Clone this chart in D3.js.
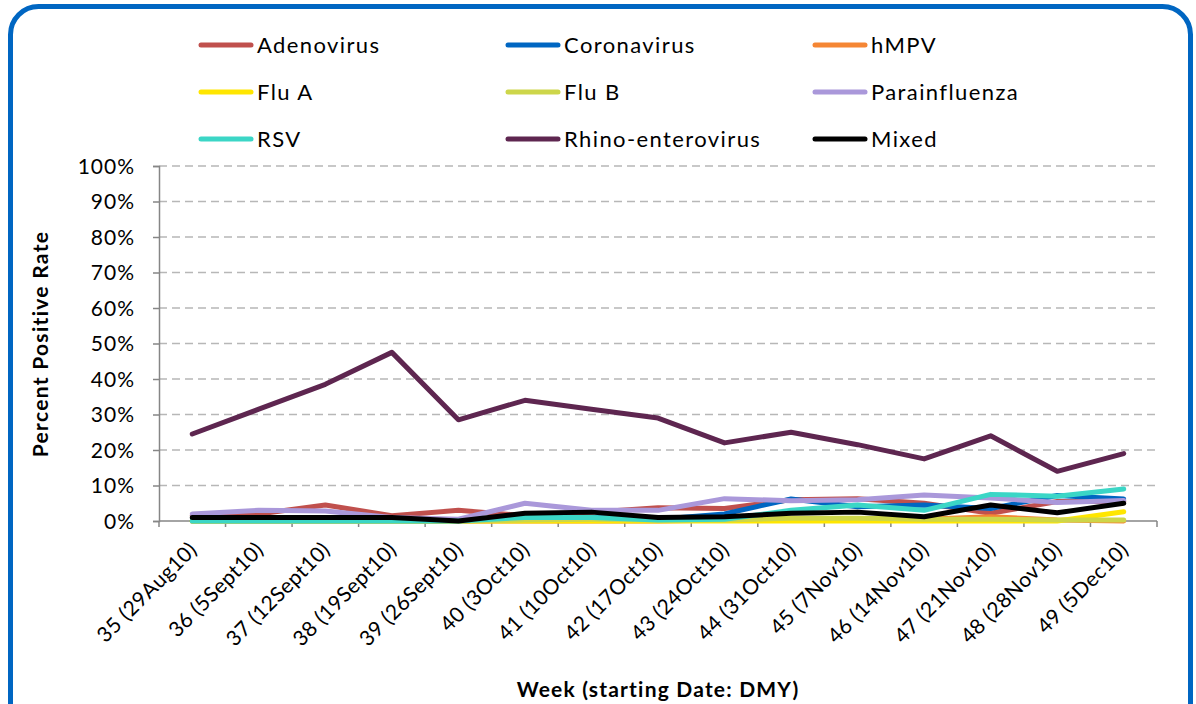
<!DOCTYPE html>
<html>
<head>
<meta charset="utf-8">
<script src="https://cdnjs.cloudflare.com/ajax/libs/d3/7.8.5/d3.min.js"></script>
<style>
  body { margin: 0; background: #fff; }
  svg { display: block; font-family: Lato, "Open Sans", sans-serif; }
</style>
</head>
<body>
<svg id="virusChart"></svg>
<script>
let weeks = ["35 (29Aug10)", "36 (5Sept10)", "37 (12Sept10)", "38 (19Sept10)", "39 (26Sept10)",
             "40 (3Oct10)", "41 (10Oct10)", "42 (17Oct10)", "43 (24Oct10)", "44 (31Oct10)",
             "45 (7Nov10)", "46 (14Nov10)", "47 (21Nov10)", "48 (28Nov10)", "49 (5Dec10)"];

let seriesNames = ["Adenovirus", "Coronavirus", "hMPV", "Flu A", "Flu B", "Parainfluenza", "RSV", "Rhino-enterovirus", "Mixed"];
let seriesColors = ["#C0504D", "#0066C2", "#F58634", "#FFE600", "#CDD64A", "#AA98DA", "#3BD6C6", "#5E2650", "#000000"];

let adenovirus   = [1.5, 2, 4.5, 1.5, 3, 1.5, 2.5, 3.7, 3.5, 6, 6.3, 5, 2.2, 5.5, 5.5];
let coronavirus  = [0, 0, 0, 0, 0, 0.5, 1, 0.5, 2, 6.2, 4, 4.5, 3.5, 7.2, 6.2];
let hmpv         = [0, 0, 0, 0, 0, 0, 0, 0, 0.3, 0.5, 0.5, 0.5, 1.2, 0.3, 0];
let fluA         = [0, 0, 0, 0, 0, 0, 0, 0, 0, 0, 0, 0, 0, 0, 2.6];
let fluB         = [0, 0, 0, 0, 0, 0.3, 0.5, 0.3, 0.3, 0.8, 0.8, 0.5, 0.5, 0.3, 0.3];
let parainfluenza= [2, 3, 2.8, 1, 0.5, 5, 3, 3, 6.3, 5.7, 6, 7.3, 6.5, 5.2, 5.8];
let rsv          = [0, 0, 0, 0, 0, 1, 1, 0.3, 0.5, 3, 4.5, 3, 7.5, 7, 9];
let rhino        = [24.5, 31.5, 38.5, 47.5, 28.5, 34, 31.5, 29, 22, 25, 21.5, 17.5, 24, 14, 19];
let mixed        = [1, 1, 1, 1, 0, 2.2, 2.5, 1, 1.2, 2.2, 2.5, 1.2, 4.5, 2.3, 5];

let seriesValues = [adenovirus, coronavirus, hmpv, fluA, fluB, parainfluenza, rsv, rhino, mixed];
let yTicks = [0, 10, 20, 30, 40, 50, 60, 70, 80, 90, 100];

let chartWidth = 1196;
let chartHeight = 704;
let margin = {left: 159, right: 39, top: 166, bottom: 183};

let svg = d3.select("#virusChart")
    .attr("width", chartWidth)
    .attr("height", chartHeight);

// blue rounded frame
svg.append("rect")
    .attr("x", 10.5)
    .attr("y", 6.5)
    .attr("width", 1180)
    .attr("height", 730)
    .attr("rx", 28)
    .attr("fill", "none")
    .attr("stroke", "#0066C2")
    .attr("stroke-width", 5);

let plotW = chartWidth - margin.left - margin.right;
let plotH = chartHeight - margin.top - margin.bottom;

let g = svg.append("g")
    .attr("transform", "translate(" + margin.left + "," + margin.top + ")");

let x = d3.scaleBand()
    .domain(weeks)
    .range([0, plotW]);

let y = d3.scaleLinear()
    .domain([0, 100])
    .range([plotH, 0]);

// gridlines
g.selectAll(".grid")
    .data(yTicks.slice(1))
    .enter().append("line")
    .attr("class", "grid")
    .attr("x1", 0)
    .attr("x2", plotW)
    .attr("y1", d => y(d))
    .attr("y2", d => y(d))
    .attr("stroke", "#B7B7B7")
    .attr("stroke-width", 1.5)
    .attr("stroke-dasharray", "8,5");

// y axis
let yAxis = g.append("g")
    .call(d3.axisLeft(y).tickValues(yTicks).tickFormat(d => d + "%").tickSize(6).tickPadding(18));
yAxis.select(".domain").attr("stroke", "#868686").attr("stroke-width", 1.5);
yAxis.selectAll(".tick line").attr("stroke", "#868686").attr("stroke-width", 1.5);
yAxis.selectAll("text")
    .attr("font-size", 21)
    .attr("font-family", "Lato, sans-serif")
    .attr("letter-spacing", 1)
    .attr("fill", "#000")
    .attr("dy", "0.35em");

// x axis (ticks on category boundaries)
let xAxisG = g.append("g")
    .attr("transform", "translate(0," + plotH + ")");
xAxisG.append("line")
    .attr("x1", 0).attr("x2", plotW)
    .attr("y1", 0).attr("y2", 0)
    .attr("stroke", "#868686")
    .attr("stroke-width", 1.5);
xAxisG.selectAll(".xtick")
    .data(weeks.concat(["end"]))
    .enter().append("line")
    .attr("class", "xtick")
    .attr("x1", (d, i) => i * x.bandwidth())
    .attr("x2", (d, i) => i * x.bandwidth())
    .attr("y1", 0)
    .attr("y2", 6)
    .attr("stroke", "#868686")
    .attr("stroke-width", 1.5);
xAxisG.selectAll(".xlabel")
    .data(weeks)
    .enter().append("text")
    .attr("class", "xlabel")
    .text(d => d)
    .attr("text-anchor", "end")
    .attr("font-size", 21)
    .attr("letter-spacing", 0.4)
    .attr("transform", d => "translate(" + (x(d) + x.bandwidth() / 2 + 6) + ",30) rotate(-45)");

// lines
let line = d3.line()
    .x((d, i) => x(weeks[i]) + x.bandwidth() / 2)
    .y(d => y(d));

g.selectAll(".series")
    .data(seriesValues)
    .enter().append("path")
    .attr("class", "series")
    .attr("d", d => line(d))
    .attr("fill", "none")
    .attr("stroke", (d, i) => seriesColors[i])
    .attr("stroke-width", 5)
    .attr("stroke-linejoin", "round")
    .attr("stroke-linecap", "round");

// legend
let legend = svg.append("g").attr("class", "legend");
let legendItems = legend.selectAll(".legendItem")
    .data(seriesNames)
    .enter().append("g")
    .attr("class", "legendItem")
    .attr("transform", (d, i) => "translate(" + (199 + (i % 3) * 307) + "," + (45 + Math.floor(i / 3) * 47) + ")");
legendItems.append("line")
    .attr("x1", 2).attr("x2", 52)
    .attr("y1", 0).attr("y2", 0)
    .attr("stroke", (d, i) => seriesColors[i])
    .attr("stroke-width", 5)
    .attr("stroke-linecap", "round");
legendItems.append("text")
    .text(d => d)
    .attr("x", 58)
    .attr("y", 0)
    .attr("dy", "0.36em")
    .attr("font-size", 22)
    .attr("letter-spacing", 1.4);

// axis titles
svg.append("text")
    .text("Percent Positive Rate")
    .attr("font-weight", "bold")
    .attr("font-size", 21)
    .attr("letter-spacing", 1.3)
    .attr("text-anchor", "middle")
    .attr("transform", "translate(48,344) rotate(-90)");

svg.append("text")
    .text("Week (starting Date: DMY)")
    .attr("font-weight", "bold")
    .attr("font-size", 21)
    .attr("letter-spacing", 1.2)
    .attr("text-anchor", "middle")
    .attr("x", 658)
    .attr("y", 697);
</script>
</body>
</html>
